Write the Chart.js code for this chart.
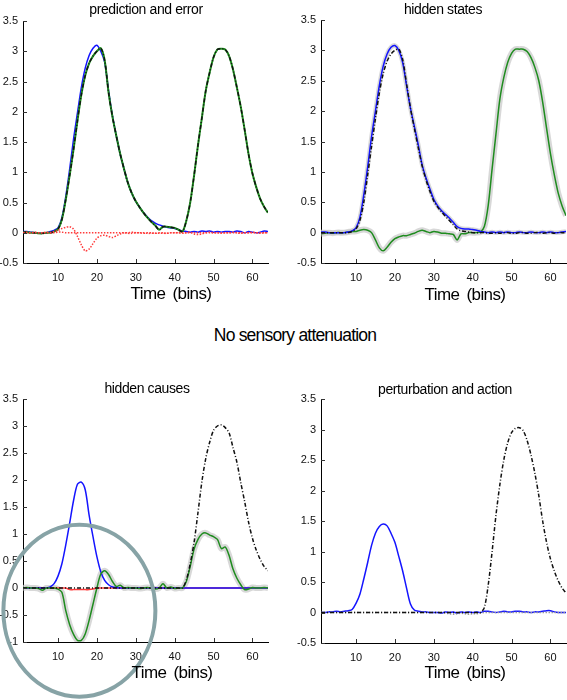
<!DOCTYPE html>
<html lang="en">
<head>
  <meta charset="UTF-8">
  <title>No sensory attenuation</title>
  <script src="https://cdn.jsdelivr.net/npm/chart.js@4.4.1/dist/chart.umd.min.js"></script>
  <style>
    body { margin: 0; background: #fff; }
    #page { position: relative; width: 567px; height: 700px; overflow: hidden; font-family: "Liberation Sans", Arial, sans-serif; color: #000; }
    .panel { position: absolute; }
    .txt { position: absolute; transform: translate(-50%, -50%); white-space: nowrap; z-index: 2; }
    .ttl { font-size: 14px; letter-spacing: -0.4px; }
    .xl { font-size: 17px; letter-spacing: -0.6px; word-spacing: 3px; }
    .big { font-size: 17.5px; letter-spacing: -0.8px; }
  </style>
</head>
<body>
<div id="page">
  <canvas id="c1" class="panel" width="283" height="310" style="left:0;top:0"></canvas>
  <canvas id="c2" class="panel" width="284" height="310" style="left:283px;top:0"></canvas>
  <canvas id="c3" class="panel" width="283" height="320" style="left:0;top:380px"></canvas>
  <canvas id="c4" class="panel" width="284" height="320" style="left:283px;top:380px"></canvas>

  <div class="txt ttl" style="left:146px;top:9px">prediction and error</div>
  <div class="txt ttl" style="left:443px;top:9px">hidden states</div>
  <div class="txt ttl" style="left:147px;top:388px">hidden causes</div>
  <div class="txt ttl" style="left:445px;top:389px">perturbation and action</div>
  <div class="txt xl" style="left:171px;top:294px">Time (bins)</div>
  <div class="txt xl" style="left:465px;top:295px">Time (bins)</div>
  <div class="txt xl" style="left:172px;top:673px">Time (bins)</div>
  <div class="txt xl" style="left:465px;top:673px">Time (bins)</div>
  <div class="txt big" style="left:295px;top:335px">No sensory attenuation</div>
</div>

<script>
  // time bins
  const bins = [1,2,3,4,5,6,7,8,9,10,11,12,13,14,15,16,17,18,19,20,21,22,23,24,25,26,27,28,29,30,31,32,
                33,34,35,36,37,38,39,40,41,42,43,44,45,46,47,48,49,50,51,52,53,54,55,56,57,58,59,60,61,62,63,64];
  const xTicks = [10, 20, 30, 40, 50, 60];

  // prediction and error
  const predBlue = [0.02,0.02,0.01,0.00,0.00,-0.01,0.00,0.02,0.04,0.08,0.25,0.60,1.05,1.55,1.98,2.40,2.72,2.93,3.05,3.10,3.00,2.82,2.35,1.93,1.60,1.30,1.05,0.82,0.65,0.52,0.42,0.33,
                    0.26,0.20,0.16,0.13,0.11,0.09,0.08,0.07,0.05,0.03,0.02,0.01,0.02,0.01,0.03,0.02,0.03,0.01,0.02,0.01,0.02,0.02,0.01,0.03,0.02,0.00,0.02,0.01,0.00,0.01,0.03,0.02];
  const predGreen = [0.01,0.01,0.00,0.00,-0.01,-0.01,0.00,0.00,0.02,0.06,0.22,0.55,0.95,1.38,1.85,2.28,2.60,2.80,2.92,3.00,3.05,2.85,2.32,1.92,1.60,1.30,1.05,0.82,0.65,0.52,0.42,0.33,
                     0.25,0.18,0.12,0.05,0.10,0.10,0.09,0.08,0.05,0.02,0.20,0.50,0.95,1.45,1.90,2.35,2.65,2.90,3.03,3.04,3.03,2.92,2.70,2.40,2.08,1.70,1.30,0.98,0.75,0.56,0.43,0.33];
  const errA = [0.00,0.01,0.00,0.01,0.00,0.00,0.01,0.00,0.02,0.04,0.07,0.09,0.10,0.06,-0.06,-0.20,-0.30,-0.27,-0.18,-0.09,-0.05,-0.04,-0.06,-0.08,-0.05,-0.02,0.00,0.00,0.01,0.00,0.00,-0.01,
                0.00,0.00,-0.01,0.00,0.00,-0.01,0.00,0.00,0.00,-0.01,0.00,0.01,-0.02,-0.03,-0.02,0.00,0.01,0.00,0.00,-0.01,0.00,0.00,0.01,0.00,-0.01,0.00,0.00,0.01,0.00,-0.01,0.00,0.00];
  const errB = [0.00,0.00,0.00,0.00,0.00,0.00,0.00,0.00,0.00,0.01,0.01,0.00,0.00,0.00,0.00,0.00,0.00,0.00,0.00,0.00,0.00,0.00,0.00,0.00,0.00,0.00,0.00,-0.01,-0.01,0.00,0.00,0.00,
                -0.01,-0.01,-0.01,-0.01,-0.01,-0.01,0.00,0.00,0.00,0.00,0.00,0.00,0.00,0.00,0.00,0.00,0.00,0.00,0.00,0.00,0.00,0.00,0.00,0.00,0.00,0.00,0.00,0.00,0.00,0.00,0.00,0.00];

  // hidden states
  const stateBlue = [0.01,0.01,0.00,0.00,0.00,0.00,0.00,0.01,0.03,0.08,0.25,0.62,1.08,1.58,2.00,2.42,2.74,2.94,3.05,3.08,3.00,2.80,2.42,2.05,1.75,1.45,1.12,0.90,0.72,0.55,0.44,0.36,
                     0.30,0.24,0.17,0.10,0.07,0.06,0.06,0.05,0.04,0.02,0.01,0.00,0.01,0.00,0.01,0.00,0.01,0.00,0.00,0.01,0.00,0.00,0.01,0.00,0.00,0.01,0.00,0.01,0.00,0.00,0.01,0.02];
  const stateTrue = [0.00,0.00,0.00,0.00,0.00,0.00,0.00,0.00,0.02,0.06,0.20,0.50,0.95,1.42,1.88,2.30,2.62,2.82,2.94,3.00,3.02,2.85,2.45,2.05,1.72,1.40,1.10,0.87,0.68,0.52,0.42,0.34,
                     0.27,0.20,0.13,0.06,0.03,0.02,0.01,0.00,0.00,0.00,0.00,-0.01,-0.01,0.00,-0.01,0.00,0.00,-0.01,-0.01,0.00,0.00,-0.01,-0.01,0.00,0.00,-0.01,0.00,0.00,-0.01,0.00,0.00,0.00];
  const stateGreen = [-0.02,-0.01,0.00,-0.01,0.00,0.00,0.00,0.01,0.02,0.02,0.04,0.05,0.04,0.00,-0.12,-0.25,-0.30,-0.24,-0.16,-0.10,-0.07,-0.05,-0.05,-0.03,-0.01,0.02,0.04,0.02,0.00,0.02,0.01,-0.01,
                      -0.01,-0.02,-0.03,-0.12,-0.02,-0.02,0.00,0.00,0.00,0.01,0.10,0.45,1.05,1.63,2.20,2.55,2.80,2.95,3.02,3.02,3.02,2.98,2.88,2.72,2.50,2.15,1.72,1.30,0.95,0.65,0.44,0.28];

  // hidden causes
  const causeBlue = [0,0,0,0,0,0,0,0.02,0.08,0.22,0.45,0.80,1.20,1.62,1.92,1.96,1.82,1.35,0.95,0.58,0.30,0.14,0.06,0.02,0.01,0,0,0,0,0,0,0,
                     0,0,0,0,0,0,0,0,0,0,0,0,0,0,0,0,0,0,0,0,0,0,0,0,0,0,0,0,0,0,0,0];
  const causeGreen = [0.00,0.01,0.00,0.00,-0.01,-0.04,0.00,0.00,0.00,-0.02,-0.08,-0.42,-0.68,-0.86,-0.97,-0.97,-0.85,-0.60,-0.30,0.00,0.26,0.32,0.25,0.12,0.03,0.05,0.00,0.01,0.00,0.00,-0.01,0.00,
                      0.01,0.00,-0.02,0.00,0.08,0.00,0.02,-0.01,0.00,0.00,0.12,0.40,0.72,0.90,1.00,1.02,0.98,0.95,0.90,0.73,0.76,0.60,0.35,0.18,0.06,-0.03,-0.02,0.01,0.00,0.00,0.01,0.00];
  const causeTrue = [0,0,0,0,0,0,0,0,0,0,0,0,0,0,0,0,0,0,0,0,0,0,0,0,0,0,0,0,0,0,0,0,
                     0,0,0,0,0,0,0,0,0,0,0.15,0.45,0.85,1.40,1.97,2.40,2.70,2.92,3.00,3.02,2.97,2.87,2.60,2.33,1.95,1.60,1.22,0.92,0.70,0.53,0.40,0.32];
  const causeRed = [0,0,0,0,0,0,0,0,0,0,0,0,-0.03,-0.03,-0.03,-0.03,-0.03,-0.03,-0.02,0,0,0,0,0,0,0,0,0,0,0,0,0,
                    0,0,0,0,0,0,0,0,0,0,0,0,0,0,0,0,0,0,0,0,0,0,0,0,0,0,0,0,0,0,0,0];

  // perturbation and action
  const actionBlue = [0.00,0.00,0.01,0.01,0.02,0.01,0.02,0.03,0.05,0.15,0.30,0.55,0.82,1.10,1.30,1.41,1.45,1.42,1.30,1.15,0.92,0.68,0.40,0.14,0.04,0.02,0.01,0.01,0.00,0.00,0.00,-0.01,
                      0.01,0.00,0.01,-0.01,0.01,0.00,0.01,0.00,0.01,0.00,0.02,0.02,0.01,0.00,0.01,0.02,0.01,0.01,0.02,0.02,0.01,0.01,0.00,0.01,0.01,0.02,0.03,0.03,0.01,0.00,0.00,0.00];
  const perturb = [0,0,0,0,0,0,0,0,0,0,0,0,0,0,0,0,0,0,0,0,0,0,0,0,0,0,0,0,0,0,0,0,
                   0,0,0,0,0,0,0,0,0,0,0.08,0.45,1.00,1.60,2.10,2.50,2.78,2.95,3.02,3.03,2.98,2.82,2.58,2.28,1.92,1.50,1.15,0.88,0.68,0.52,0.40,0.32];
  const actionGrey = [0,0,0,0,0,0,0,0,0,0,0,0,0,0,0,0,0,0,0,0,0,0,0,0,0,0,0,0,0,0,0,0,
                      -0.01,-0.02,-0.03,-0.02,-0.01,-0.02,-0.03,-0.02,-0.02,-0.01,0,0,0,0,0,0,0,0,0,0,0,0,0,0,0,0,0,0,0,0,0,0];

  const FONT = '"Liberation Sans", Arial, sans-serif';
  const BLUE = '#1414ff', GREEN = '#1f8c1f', RED = '#ff3b3b', BAND = 'rgba(200,200,200,0.7)';

  function pts(vals) {
    return vals.map((v, i) => ({ x: bins[i], y: v }));
  }
  function line(vals, color, extra) {
    return Object.assign({ data: pts(vals), borderColor: color, borderWidth: 1.5, pointRadius: 0, tension: 0.3, fill: false }, extra || {});
  }
  const dashDot = { borderColor: '#111', borderDash: [4, 2, 1, 2] };
  const dotted = { borderDash: [1.5, 1.5] };

  // short inward tick marks on both axes
  const innerTicks = {
    id: 'innerTicks',
    afterDraw(chart) {
      const { ctx, chartArea: a, scales: { x, y } } = chart;
      ctx.save();
      ctx.strokeStyle = '#333';
      ctx.lineWidth = 1;
      ctx.beginPath();
      x.ticks.forEach(t => {
        const px = Math.round(x.getPixelForValue(t.value)) + 0.5;
        ctx.moveTo(px, a.bottom);
        ctx.lineTo(px, a.bottom - 4);
      });
      y.ticks.forEach(t => {
        const py = Math.round(y.getPixelForValue(t.value)) + 0.5;
        ctx.moveTo(a.left, py);
        ctx.lineTo(a.left + 4, py);
      });
      ctx.stroke();
      ctx.restore();
    }
  };

  // grey circle drawn round the early part of the hidden causes panel
  const ring = {
    id: 'ring',
    afterDraw(chart) {
      const { ctx, scales: { x, y } } = chart;
      ctx.save();
      ctx.strokeStyle = '#87a3a6';
      ctx.lineWidth = 4;
      ctx.beginPath();
      ctx.ellipse(x.getPixelForValue(15.5), y.getPixelForValue(-0.42), 76, 86, 0, 0, Math.PI * 2);
      ctx.stroke();
      ctx.restore();
    }
  };

  function options(yMin, yMax, pad, yW, xH) {
    return {
      responsive: false,
      animation: false,
      layout: { padding: pad },
      plugins: { legend: { display: false }, tooltip: { enabled: false } },
      scales: {
        x: {
          type: 'linear', min: 1, max: 64,
          afterBuildTicks: s => { s.ticks = xTicks.map(v => ({ value: v })); },
          afterFit: s => { s.height = xH; },
          grid: { drawOnChartArea: false, drawTicks: false },
          border: { color: '#000', width: 1 },
          ticks: { padding: 8, color: '#111', font: { family: FONT, size: 11 }, maxRotation: 0 }
        },
        y: {
          min: yMin, max: yMax,
          afterFit: s => { s.width = yW; },
          grid: { drawOnChartArea: false, drawTicks: false },
          border: { color: '#000', width: 1 },
          ticks: {
            stepSize: 0.5, padding: 5, color: '#111', font: { family: FONT, size: 11 },
            callback: v => String(Math.round(v * 10) / 10)
          }
        }
      }
    };
  }

  new Chart(document.getElementById('c1'), {
    type: 'line',
    data: { datasets: [
      line(errA, RED, dotted),
      line(errB, RED, dotted),
      line(predGreen, '#111', dashDot),
      line(predGreen, GREEN, { borderWidth: 2 }),
      line(predBlue, BLUE)
    ] },
    options: options(-0.5, 3.5, { left: 0, right: 15, top: 21, bottom: 0 }, 23, 47),
    plugins: [innerTicks]
  });

  new Chart(document.getElementById('c2'), {
    type: 'line',
    data: { datasets: [
      line(stateTrue, '#111', dashDot),
      line(stateBlue, BLUE),
      line(stateGreen, GREEN),
      line(stateBlue, BAND, { borderWidth: 4.5 }),
      line(stateGreen, BAND, { borderWidth: 6 })
    ] },
    options: options(-0.5, 3.5, { left: 0, right: 1, top: 20, bottom: 0 }, 38, 47),
    plugins: [innerTicks]
  });

  new Chart(document.getElementById('c3'), {
    type: 'line',
    data: { datasets: [
      line(causeTrue, '#111', dashDot),
      line(causeGreen, GREEN),
      line(causeBlue, BLUE),
      line(causeRed, RED),
      line(causeGreen, BAND, { borderWidth: 6 })
    ] },
    options: options(-1, 3.5, { left: 0, right: 15, top: 19, bottom: 0 }, 23, 58),
    plugins: [innerTicks, ring]
  });

  new Chart(document.getElementById('c4'), {
    type: 'line',
    data: { datasets: [
      line(perturb, '#111', dashDot),
      line(actionGrey, '#9a9a9a', dotted),
      line(actionBlue, BLUE)
    ] },
    options: options(-0.5, 3.5, { left: 0, right: 1, top: 19, bottom: 0 }, 38, 57),
    plugins: [innerTicks]
  });
</script>
</body>
</html>
